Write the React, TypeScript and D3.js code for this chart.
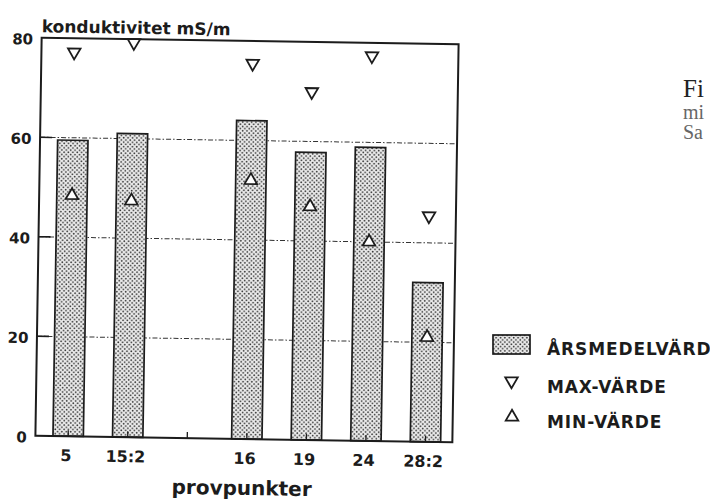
import { useEffect, useRef } from "react";
import * as d3 from "d3";

// provpunkter (one empty slot between 15:2 and 16)
const slots = ["5", "15:2", "", "16", "19", "24", "28:2"];
const provpunkter = ["5", "15:2", "16", "19", "24", "28:2"];
const arsmedel = [59.5, 61, 64, 57.8, 59, 32];
const maxVarde = [77.2, 79.3, 75.5, 70, 77.4, 45.4];
const minVarde = [48.4, 47.5, 52, 46.9, 40, 21];
const yTicks = [0, 20, 40, 60, 80];
const gridTicks = [20, 40, 60];
const legendItems = ["ÅRSMEDELVÄRDE", "MAX-VÄRDE", "MIN-VÄRDE"];
const captionLines = ["Fi", "mi", "Sa"];

const FONT = "'DejaVu Sans', sans-serif";
const INK = "#1c1c1c";

export default function App() {
  const svgRef = useRef<SVGSVGElement>(null);

  useEffect(() => {
    if (!svgRef.current) return;
    const svg = d3.select(svgRef.current);
    svg.selectAll("*").remove();

    const width = 710;
    const height = 501;
    const margin = { top: 41, right: 254.5, bottom: 62, left: 38.5 };
    const right = width - margin.right;
    const bottom = height - margin.bottom;

    // dotted fill used for the bars
    const defs = svg.append("defs");
    const pat = defs
      .append("pattern")
      .attr("id", "dots")
      .attr("patternUnits", "userSpaceOnUse")
      .attr("width", 4.4)
      .attr("height", 4.4);
    pat.append("rect").attr("width", 4.4).attr("height", 4.4).attr("fill", "#ececec");
    pat.append("circle").attr("cx", 1.1).attr("cy", 1.1).attr("r", 0.9).attr("fill", "#333");
    pat.append("circle").attr("cx", 3.3).attr("cy", 3.3).attr("r", 0.9).attr("fill", "#333");

    const x = d3
      .scaleBand()
      .domain(slots)
      .range([margin.left, right])
      .paddingInner(0.49)
      .paddingOuter(0.246)
      .align(0.6);

    const y = d3.scaleLinear().domain([0, 80]).range([bottom, margin.top]);

    // the scan is a little tilted
    const g = svg.append("g").attr("transform", "rotate(0.9,247,240)");

    // grid lines
    g.selectAll(".grid")
      .data(gridTicks)
      .enter()
      .append("line")
      .attr("x1", margin.left)
      .attr("x2", right)
      .attr("y1", (d) => y(d))
      .attr("y2", (d) => y(d))
      .attr("stroke", "#333")
      .attr("stroke-width", 1)
      .attr("stroke-dasharray", "5,2,1.5,2");

    // y ticks (inside)
    g.selectAll(".ytick")
      .data(gridTicks)
      .enter()
      .append("line")
      .attr("x1", margin.left)
      .attr("x2", margin.left + 12)
      .attr("y1", (d) => y(d))
      .attr("y2", (d) => y(d))
      .attr("stroke", INK)
      .attr("stroke-width", 1.6);

    // bars
    g.selectAll(".bar")
      .data(provpunkter)
      .enter()
      .append("rect")
      .attr("x", (d) => x(d) || 0)
      .attr("y", (_, i) => y(arsmedel[i]))
      .attr("width", x.bandwidth())
      .attr("height", (_, i) => bottom - y(arsmedel[i]))
      .attr("fill", "url(#dots)")
      .attr("stroke", INK)
      .attr("stroke-width", 1.7);

    // x ticks (small, pointing up)
    g.selectAll(".xtick")
      .data(slots)
      .enter()
      .append("line")
      .attr("x1", (d) => (x(d) || 0) + x.bandwidth() / 2)
      .attr("x2", (d) => (x(d) || 0) + x.bandwidth() / 2)
      .attr("y1", bottom)
      .attr("y2", bottom - 6)
      .attr("stroke", INK)
      .attr("stroke-width", 1.3);

    // frame
    g.append("rect")
      .attr("x", margin.left)
      .attr("y", margin.top)
      .attr("width", right - margin.left)
      .attr("height", bottom - margin.top)
      .attr("fill", "none")
      .attr("stroke", INK)
      .attr("stroke-width", 2);

    // min / max markers
    const tri = d3.symbol(d3.symbolTriangle, 68);
    const cx = (d: string) => (x(d) || 0) + x.bandwidth() / 2;

    g.selectAll(".max")
      .data(provpunkter)
      .enter()
      .append("path")
      .attr("d", tri()!)
      .attr("transform", (d, i) => `translate(${cx(d)},${y(maxVarde[i])}) rotate(180)`)
      .attr("fill", "#fff")
      .attr("stroke", INK)
      .attr("stroke-width", 1.8);

    g.selectAll(".min")
      .data(provpunkter)
      .enter()
      .append("path")
      .attr("d", tri()!)
      .attr("transform", (d, i) => `translate(${cx(d)},${y(minVarde[i])})`)
      .attr("fill", "#fff")
      .attr("stroke", INK)
      .attr("stroke-width", 1.8);

    // y labels
    g.selectAll(".ylab")
      .data(yTicks)
      .enter()
      .append("text")
      .attr("x", margin.left - 8.5)
      .attr("y", (d) => y(d) + 1.5)
      .attr("dy", "0.36em")
      .attr("text-anchor", "end")
      .attr("font-family", FONT)
      .attr("font-weight", "bold")
      .attr("font-size", 15)
      .attr("fill", INK)
      .text((d) => d);

    // x labels
    g.selectAll(".xlab")
      .data(provpunkter)
      .enter()
      .append("text")
      .attr("x", (d) => cx(d) - 2)
      .attr("y", bottom + 25)
      .attr("text-anchor", "middle")
      .attr("font-family", FONT)
      .attr("font-weight", "bold")
      .attr("font-size", 16)
      .attr("fill", INK)
      .text((d) => d);

    // y title
    g.append("text")
      .attr("x", margin.left)
      .attr("y", 35.5)
      .attr("font-family", FONT)
      .attr("font-weight", "bold")
      .attr("font-size", 17)
      .attr("fill", INK)
      .text("konduktivitet mS/m");

    // x title
    g.append("text")
      .attr("x", 245.5)
      .attr("y", 495)
      .attr("text-anchor", "middle")
      .attr("font-family", FONT)
      .attr("font-weight", "bold")
      .attr("font-size", 20)
      .attr("fill", INK)
      .text("provpunkter");

    // legend
    const leg = svg.append("g");
    leg.append("rect")
      .attr("x", 493)
      .attr("y", 335)
      .attr("width", 37)
      .attr("height", 19)
      .attr("fill", "url(#dots)")
      .attr("stroke", INK)
      .attr("stroke-width", 1.7);
    leg.append("path")
      .attr("d", tri()!)
      .attr("transform", "translate(511.5,381) rotate(180)")
      .attr("fill", "#fff")
      .attr("stroke", INK)
      .attr("stroke-width", 1.8);
    leg.append("path")
      .attr("d", tri()!)
      .attr("transform", "translate(512,417)")
      .attr("fill", "#fff")
      .attr("stroke", INK)
      .attr("stroke-width", 1.8);
    leg.selectAll(".ltext")
      .data(legendItems)
      .enter()
      .append("text")
      .attr("x", 547)
      .attr("y", (_, i) => [355, 393, 428][i])
      .attr("font-family", FONT)
      .attr("font-weight", "bold")
      .attr("font-size", 17)
      .attr("letter-spacing", 0.9)
      .attr("fill", INK)
      .text((d) => d);

    // caption text cut by the right edge
    svg.selectAll(".cap")
      .data(captionLines)
      .enter()
      .append("text")
      .attr("x", 683)
      .attr("y", (_, i) => [97, 119, 139][i])
      .attr("font-family", "'Liberation Serif', serif")
      .attr("font-size", (_, i) => (i === 0 ? 25 : 20))
      .attr("fill", (_, i) => (i === 0 ? "#222" : "#666"))
      .text((d) => d);
  }, []);

  return (
    <svg
      ref={svgRef}
      width={710}
      height={501}
      style={{ position: "absolute", left: 0, top: 0, background: "#fff" }}
    />
  );
}
